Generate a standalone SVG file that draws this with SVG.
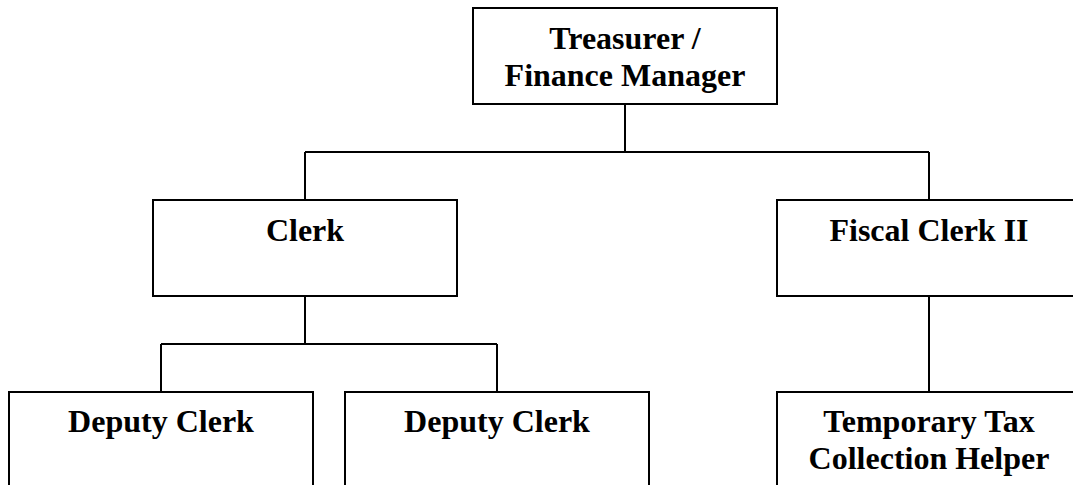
<svg xmlns="http://www.w3.org/2000/svg" width="1073" height="485" viewBox="0 0 1073 485">
<style>
.box{fill:#fff;stroke:#000;stroke-width:2}
.lbl{font-family:"Liberation Serif","Times New Roman",serif;font-weight:bold;font-size:32px;fill:#000;text-anchor:middle}
.con{fill:none;stroke:#000;stroke-width:2}
</style>
<rect width="1073" height="485" fill="#fff"/>
<g id="connectors">
<path class="con" d="M625 104V152M305 152H929M305 152V200M929 152V200M305 296V344M161 344H497M161 344V392M497 344V392M929 296V392"/>
</g>
<g id="treasurer">
<rect class="box" x="473" y="8" width="304" height="96"/>
<text class="lbl" x="625" y="49">Treasurer /</text>
<text class="lbl" x="625" y="86">Finance Manager</text>
</g>
<g id="clerk">
<rect class="box" x="153" y="200" width="304" height="96"/>
<text class="lbl" x="305" y="241">Clerk</text>
</g>
<g id="fiscal-clerk">
<rect class="box" x="777" y="200" width="304" height="96"/>
<text class="lbl" x="929" y="241">Fiscal Clerk II</text>
</g>
<g id="deputy-clerk-1">
<rect class="box" x="9" y="392" width="304" height="110"/>
<text class="lbl" x="161" y="432">Deputy Clerk</text>
</g>
<g id="deputy-clerk-2">
<rect class="box" x="345" y="392" width="304" height="110"/>
<text class="lbl" x="497" y="432">Deputy Clerk</text>
</g>
<g id="temp-helper">
<rect class="box" x="777" y="392" width="304" height="110"/>
<text class="lbl" x="929" y="432">Temporary Tax</text>
<text class="lbl" x="929" y="469">Collection Helper</text>
</g>
</svg>
